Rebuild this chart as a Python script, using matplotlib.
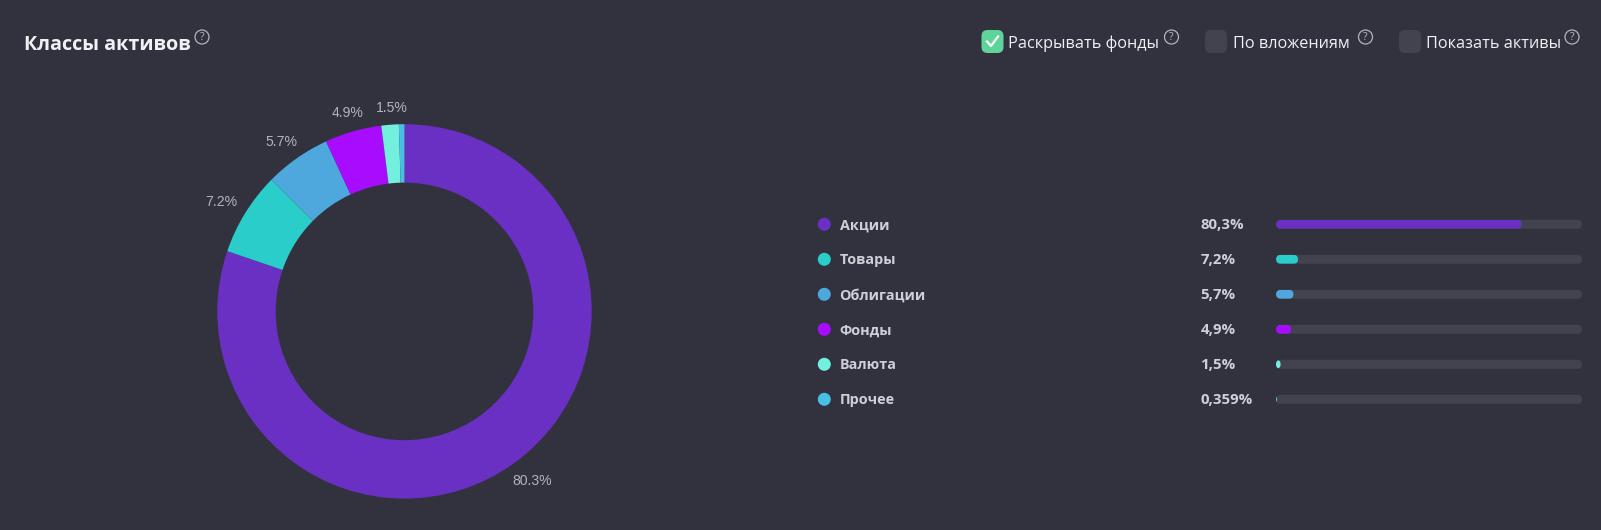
import matplotlib
matplotlib.use('Agg')
import matplotlib.pyplot as plt
from matplotlib.patches import Circle, FancyBboxPatch
import numpy as np

# data
classes = ['Акции', 'Товары', 'Облигации', 'Фонды', 'Валюта', 'Прочее']
shares = [80.3, 7.2, 5.7, 4.9, 1.5, 0.359]
# the last slice is drawn wider in the donut than its value
pie_shares = [80.2, 7.2, 5.7, 4.9, 1.5, 0.48]
value_labels = ['80,3%', '7,2%', '5,7%', '4,9%', '1,5%', '0,359%']
pie_labels = ['80.3%', '7.2%', '5.7%', '4.9%', '1.5%', '']
colors = ['#6930c3', '#2bcdcb', '#4ea8de', '#a80cff', '#72efdd', '#48bfe3']

title = 'Классы активов'
options = ['Раскрывать фонды', 'По вложениям', 'Показать активы']
option_checked = [True, False, False]

bg = '#32323e'
track = '#434350'
W, H = 1601, 530

fig = plt.figure(figsize=(W/100, H/100), dpi=100, facecolor=bg)

# overlay axes in pixel coordinates
ax = fig.add_axes([0, 0, 1, 1])
ax.set_xlim(0, W)
ax.set_ylim(H, 0)
ax.axis('off')


def px(size):
    return size*0.72


def help_icon(x, y):
    ax.add_patch(Circle((x, y), 7, fc='none', ec='#b4b4bc', lw=0.9))
    ax.text(x, y+0.3, '?', color='#b4b4bc', fontsize=px(10.5), ha='center',
            va='center', family='Open Sans')


# header
ax.text(24, 49.5, title, color='#f0f0f5', fontsize=px(19.8), fontweight='bold',
        family='Open Sans', va='baseline')
help_icon(202, 37)

box_x = [981.5, 1205, 1399]
text_x = [1008, 1233, 1426]
icon_x = [1171.5, 1365.5, 1572]
for name, checked, bx, tx, ix in zip(options, option_checked, box_x, text_x, icon_x):
    fc = '#5ed49b' if checked else track
    ax.add_patch(FancyBboxPatch((bx, 30), 22, 23, boxstyle='round,pad=0,rounding_size=6',
                                fc=fc, ec='none'))
    if checked:
        ax.plot([bx+5.5, bx+9.5, bx+16.5], [41.5, 46, 36.5], color='white', lw=1.6)
    ax.text(tx, 47.5, name, color='#f0f0f5', fontsize=px(16.3), family='Open Sans',
            va='baseline')
    help_icon(ix, 37)

# legend rows and progress bars
row_y = [224.3, 259.3, 294.3, 329.3, 364.3, 399.3]
bar_x0 = 1276
bar_w = 306
bar_h = 9
for name, share, label, col, y in zip(classes, shares, value_labels, colors, row_y):
    ax.add_patch(Circle((824.3, y), 6.5, fc=col, ec='none'))
    ax.text(839.5, y+1, name, color='#cfcfd8', fontsize=px(14.4), fontweight='bold',
            family='Open Sans', va='center')
    ax.text(1200.5, y+1, label, color='#cfcfd8', fontsize=px(15), fontweight='bold',
            family='Open Sans', va='center')
    back = FancyBboxPatch((bar_x0, y-bar_h/2), bar_w, bar_h,
                          boxstyle='round,pad=0,rounding_size=4.5', fc=track, ec='none')
    ax.add_patch(back)
    fill_w = share/100*bar_w
    draw_w = max(fill_w, bar_h)
    fill = FancyBboxPatch((bar_x0+fill_w-draw_w, y-bar_h/2), draw_w, bar_h,
                          boxstyle='round,pad=0,rounding_size=4.5', fc=col, ec='none')
    ax.add_patch(fill)
    fill.set_clip_path(back)

# donut
cx, cy, r = 404.5, 311.4, 187.2
ax_pie = fig.add_axes([(cx-r)/W, 1-(cy+r)/H, 2*r/W, 2*r/H])
ax_pie.pie(pie_shares, colors=colors, startangle=90, counterclock=False, radius=1,
           normalize=True, wedgeprops=dict(width=0.312, linewidth=0))
ax_pie.set_xlim(-1, 1)
ax_pie.set_ylim(-1, 1)

total = sum(pie_shares)
mid = (np.cumsum(pie_shares)-np.array(pie_shares)/2)/total*2*np.pi
nudge_x = [2.5, -0.5, 1, 2, 3.5, 0]
nudge_y = [-1, 0, 0, -1, -3, 0]
for label, a, dx, dy in zip(pie_labels, mid, nudge_x, nudge_y):
    ax_pie.text(1.15*np.sin(a)+dx/r, 1.107*np.cos(a)+dy/r, label, color='#b2b2ba',
                fontsize=px(14), family='Liberation Sans', ha='center', va='center',
                clip_on=False)

fig.savefig('out.png', dpi=100, facecolor=bg)
